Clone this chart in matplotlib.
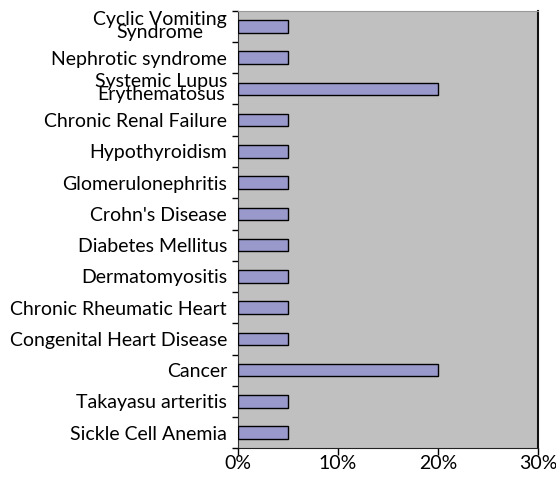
import matplotlib
matplotlib.use("Agg")
import matplotlib.pyplot as plt
import numpy as np

categories = ["Sickle Cell Anemia", "Takayasu arteritis", "Cancer",
              "Congenital Heart Disease", "Chronic Rheumatic Heart",
              "Dermatomyositis", "Diabetes Mellitus", "Crohn's Disease",
              "Glomerulonephritis", "Hypothyroidism", "Chronic Renal Failure",
              "Systemic Lupus\nErythematosus", "Nephrotic syndrome",
              "Cyclic Vomiting\nSyndrome"]
values = [5, 5, 20, 5, 5, 5, 5, 5, 5, 5, 5, 20, 5, 5]
xticks = [0, 10, 20, 30]
xticklabels = ["0%", "10%", "20%", "30%"]

plt.rcParams['font.family'] = ['Lato', 'DejaVu Sans']

fig = plt.figure(figsize=(5.56, 4.78), dpi=100)
ax = fig.add_axes([238/556, 1-448.3/478, 300/556, (448.3-10.7)/478])
ax.set_facecolor("#C0C0C0")

y = np.arange(len(categories))
ax.barh(y, values, height=0.4, color="#9999CC", edgecolor="black", linewidth=1.0, zorder=3)

ax.set_xlim(0, 30)
ax.set_ylim(-0.5, len(categories) - 0.5)

ax.set_xticks(xticks)
ax.set_xticklabels(xticklabels, fontsize=14)
ax.tick_params(axis='x', direction='out', length=5, width=1, pad=0, colors='black')

ax.set_yticks(np.arange(-0.5, len(categories), 1.0))
ax.set_yticklabels([])
ax.tick_params(axis='y', which='major', direction='out', length=4, width=1)
ax.set_yticks(y, minor=True)
ax.set_yticklabels(categories, minor=True, fontsize=14, linespacing=0.7,
                   multialignment='center')
ax.tick_params(axis='y', which='minor', length=0, pad=8)

ax.spines['left'].set_color('#333333')
ax.spines['bottom'].set_color('#222222')
ax.spines['right'].set_color('#111111')
ax.spines['right'].set_linewidth(1.5)
ax.spines['top'].set_color('#999999')

fig.savefig("out.png", dpi=100, facecolor="white")
